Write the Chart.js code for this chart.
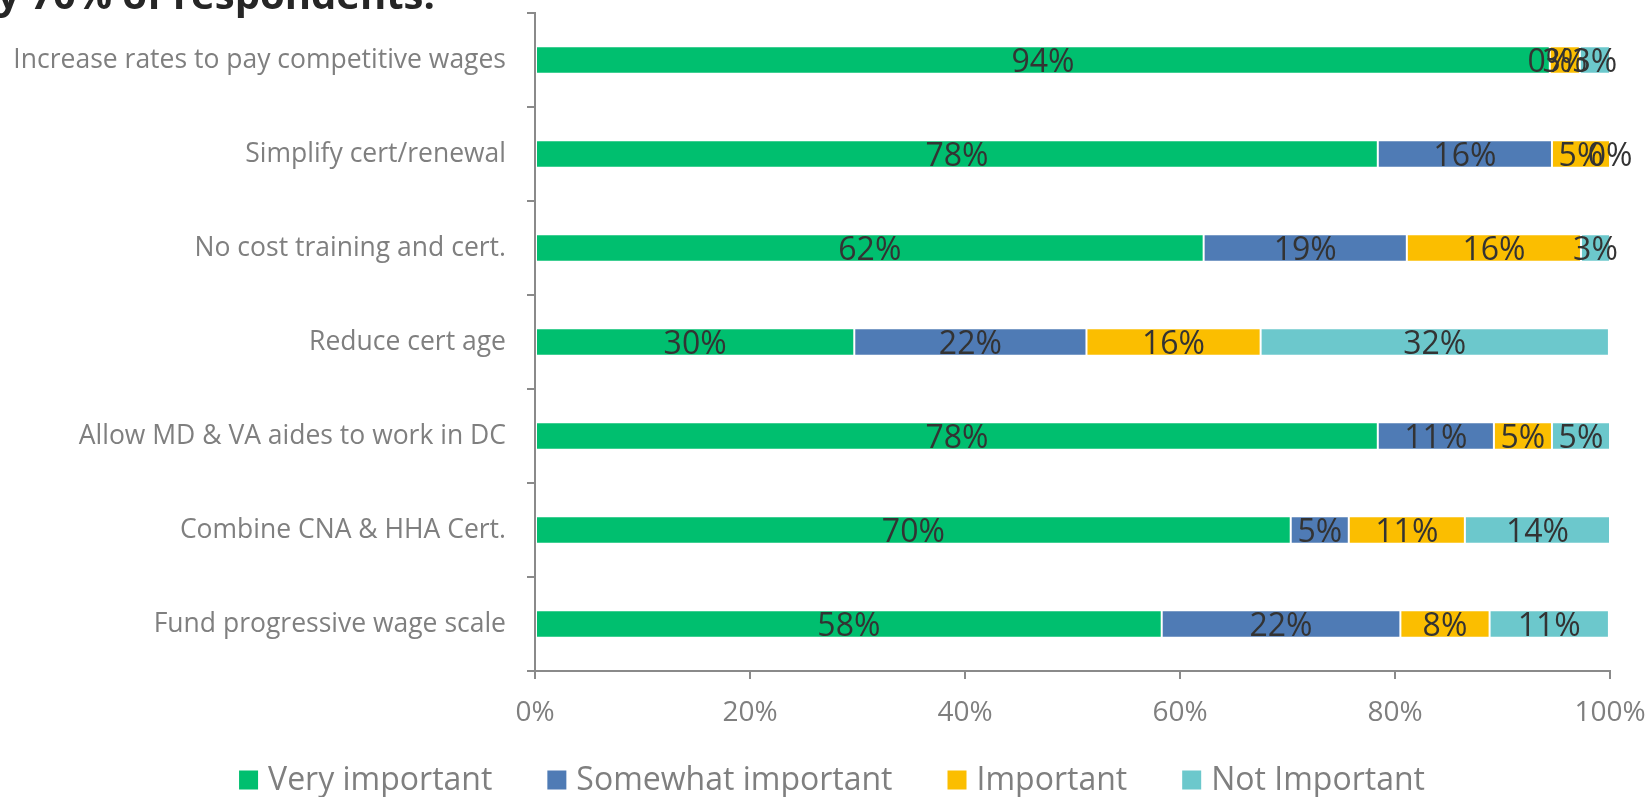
<!DOCTYPE html>
<html>
<head>
<meta charset="utf-8">
<script src="https://cdn.jsdelivr.net/npm/chart.js@4"></script>
<style>
  html, body { margin: 0; padding: 0; background: #fff; }
  canvas { display: block; }
</style>
</head>
<body>
<canvas id="chart1" width="1652" height="797"></canvas>
<script>
var categories = [
    "Increase rates to pay competitive wages",
    "Simplify cert/renewal",
    "No cost training and cert.",
    "Reduce cert age",
    "Allow MD & VA aides to work in DC",
    "Combine CNA & HHA Cert.",
    "Fund progressive wage scale"
];
var seriesNames = ["Very important", "Somewhat important", "Important", "Not Important"];

// share of respondents, percent
var veryImportant     = [94.4, 78.4, 62.2, 29.7, 78.4, 70.3, 58.3];
var somewhatImportant = [0.0, 16.2, 18.9, 21.6, 10.8, 5.4, 22.2];
var important         = [2.8, 5.4, 16.2, 16.2, 5.4, 10.8, 8.3];
var notImportant      = [2.8, 0.0, 2.7, 32.4, 5.4, 13.5, 11.1];

var xTickValues = [0, 20, 40, 60, 80, 100];

var colors = ["#00bf6f", "#4f7bb5", "#fbbe00", "#6cc8cc"];
var grey = "#7f7f7f";
var axisGrey = "#8a8a8a";
var fontFamily = '"Open Sans", "Liberation Sans", sans-serif';

var seriesData = [veryImportant, somewhatImportant, important, notImportant];

var datasets = seriesNames.map(function(name, i) {
    return {
        label: name,
        data: seriesData[i],
        backgroundColor: colors[i],
        borderColor: "rgba(255,255,255,0.6)",
        borderWidth: 1,
        borderSkipped: false,
        categoryPercentage: 1.0,
        barPercentage: 0.29
    };
});

// percentage text centred on each segment
var segmentLabels = {
    id: "segmentLabels",
    afterDatasetsDraw: function(chart) {
        var ctx = chart.ctx;
        ctx.save();
        ctx.font = "32px " + fontFamily;
        ctx.fillStyle = "#333333";
        ctx.textAlign = "center";
        ctx.textBaseline = "middle";
        chart.data.datasets.forEach(function(ds, di) {
            var meta = chart.getDatasetMeta(di);
            meta.data.forEach(function(bar, i) {
                var cx = (bar.x + bar.base) / 2;
                ctx.fillText(Math.round(ds.data[i]) + "%", cx, bar.y + 3);
            });
        });
        ctx.restore();
    }
};

// heading text at the top left, clipped by the canvas edge
var heading = {
    id: "heading",
    afterDraw: function(chart) {
        var ctx = chart.ctx;
        ctx.save();
        ctx.font = "bold 40px " + fontFamily;
        ctx.fillStyle = "#262626";
        ctx.textAlign = "left";
        ctx.textBaseline = "alphabetic";
        ctx.fillText("y 70% of respondents.", -3, 9);
        ctx.restore();
    }
};

// legend row under the axis
var bottomLegend = {
    id: "bottomLegend",
    afterDraw: function(chart) {
        var ctx = chart.ctx;
        var box = 19, gapText = 10, gapItem = 55, centerX = 832, centerY = 780;
        ctx.save();
        ctx.font = "32px " + fontFamily;
        ctx.textBaseline = "middle";
        ctx.textAlign = "left";
        var items = chart.data.datasets.map(function(ds) {
            return { text: ds.label, color: ds.backgroundColor, w: ctx.measureText(ds.label).width };
        });
        var total = 0;
        items.forEach(function(it, i) {
            total += box + gapText + it.w + (i < items.length - 1 ? gapItem : 0);
        });
        var x = centerX - total / 2;
        items.forEach(function(it) {
            ctx.fillStyle = it.color;
            ctx.fillRect(x, centerY - box / 2, box, box);
            ctx.fillStyle = grey;
            ctx.fillText(it.text, x + box + gapText, centerY + 1);
            x += box + gapText + it.w + gapItem;
        });
        ctx.restore();
    }
};

var ctx = document.getElementById("chart1").getContext("2d");
var chart = new Chart(ctx, {
    type: "bar",
    data: { labels: categories, datasets: datasets },
    options: {
        indexAxis: "y",
        responsive: false,
        animation: false,
        devicePixelRatio: 1,
        layout: { padding: { top: 13, right: 42, bottom: 42, left: 0 } },
        plugins: {
            legend: { display: false },
            tooltip: { enabled: false }
        },
        scales: {
            x: {
                type: "linear",
                stacked: true,
                min: 0,
                max: 100,
                afterBuildTicks: function(scale) {
                    scale.ticks = xTickValues.map(function(v) { return { value: v }; });
                },
                afterFit: function(scale) {
                    scale.height = 84;
                    scale.paddingLeft = 0;
                    scale.paddingRight = 0;
                },
                border: { color: axisGrey, width: 2 },
                grid: { drawOnChartArea: false, drawTicks: true, tickLength: 8, color: axisGrey, lineWidth: 2 },
                ticks: {
                    padding: 17,
                    color: grey,
                    font: { family: fontFamily, size: 28 },
                    callback: function(v) { return v + "%"; }
                }
            },
            y: {
                type: "category",
                stacked: true,
                afterFit: function(scale) {
                    scale.width = 535;
                    scale.paddingTop = 0;
                    scale.paddingBottom = 0;
                },
                border: { color: axisGrey, width: 2 },
                grid: { offset: true, drawOnChartArea: false, drawTicks: true, tickLength: 8, color: axisGrey, lineWidth: 2 },
                ticks: {
                    padding: 21,
                    color: grey,
                    font: { family: fontFamily, size: 26.5 }
                }
            }
        }
    },
    plugins: [segmentLabels, heading, bottomLegend]
});
</script>
</body>
</html>
